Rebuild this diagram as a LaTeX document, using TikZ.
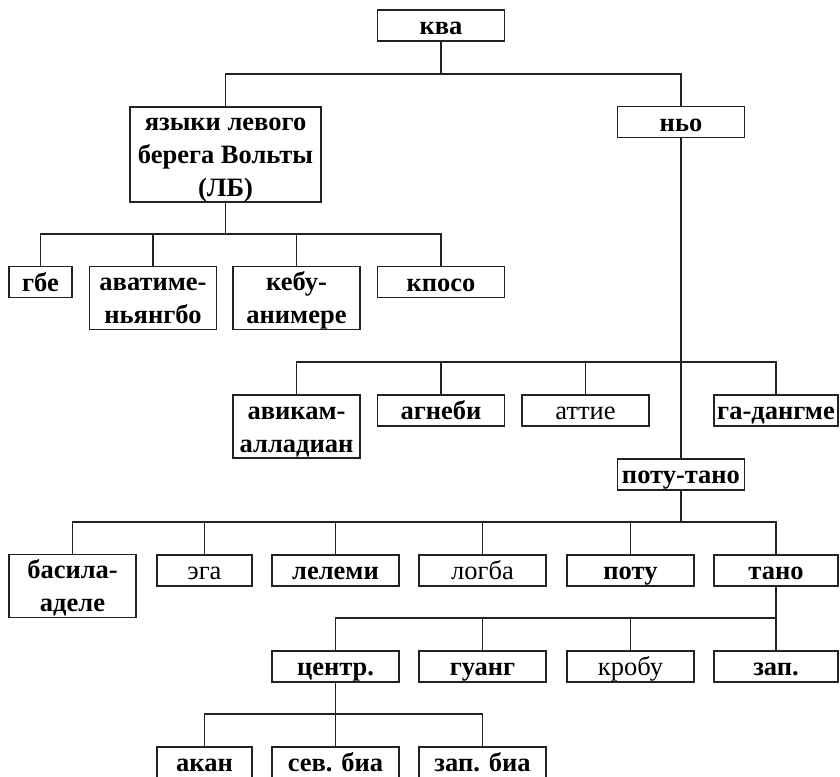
\documentclass[tikz,border=0pt]{standalone}
\usepackage{fontspec}
\setmainfont{Liberation Serif}
\usetikzlibrary{positioning}
\definecolor{linec}{RGB}{34,34,34}
\tikzset{
  box/.style={
    rectangle, draw=linec, line width=1.6pt, fill=white,
    inner sep=0pt, align=center, minimum width=127pt, minimum height=31pt,
    font=\fontsize{26.5}{33}\selectfont\bfseries, text=black,
    text height=22pt, text depth=4pt
  },
  plain/.style={font=\fontsize{26.5}{33}\selectfont\mdseries},
  narrow/.style={minimum width=95pt},
  tiny/.style={minimum width=63pt},
  twoline/.style={minimum height=63pt, text height=55pt},
  threeline/.style={minimum height=95pt, text height=88pt},
  link/.style={draw=linec, line width=1.2pt},
}

\begin{document}
\begin{tikzpicture}[x=1pt, y=-1pt]
  \useasboundingbox (0,0) rectangle (840,776);
  % top level
  \node[box] (kva) at (441,25.5) {ква};
  \node[box, threeline, minimum width=191pt] (lb) at (225.5,154.5)
    {языки левого\\берега Вольты\\(ЛБ)};
  \node[box] (nyo) at (681,122) {ньо};
  % left bank
  \node[box, tiny] (gbe) at (40.5,282) {гбе};
  \node[box, twoline] (avat) at (153,298) {аватиме-\\ньянгбо};
  \node[box, twoline] (kebu) at (296.5,298) {кебу-\\анимере};
  \node[box] (kposo) at (441,282) {кпосо};
  % nyo
  \node[box, twoline] (avikam) at (296.5,426.5) {авикам-\\алладиан};
  \node[box] (agnebi) at (441,410.5) {агнеби};
  \node[box, plain] (attie) at (585.5,410.5) {аттие};
  \node[box, minimum width=124pt] (ga) at (776,410.5) {га-дангме};
  \node[box] (pototano) at (681,474.5) {поту-тано};
  % potou-tano
  \node[box, twoline] (basila) at (72.5,586) {басила-\\аделе};
  \node[box, plain, narrow] (ega) at (204.5,570.5) {эга};
  \node[box] (lelemi) at (335.5,570.5) {лелеми};
  \node[box, plain] (logba) at (482.5,570.5) {логба};
  \node[box] (potu) at (630.5,570.5) {поту};
  \node[box, minimum width=124pt] (tano) at (776,570.5) {тано};
  % tano
  \node[box] (centr) at (335.5,666.5) {центр.};
  \node[box] (guang) at (482.5,666.5) {гуанг};
  \node[box, plain] (krobu) at (630.5,666.5) {кробу};
  \node[box, minimum width=124pt] (zap) at (776,666.5) {зап.};
  % central tano
  \node[box, narrow] (akan) at (204.5,762.5) {акан};
  \node[box] (sevbia) at (335.5,762.5) {сев. биа};
  \node[box] (zapbia) at (482.5,762.5) {зап. биа};

  % connectors
  \coordinate (b0) at (441,74);
  \draw[link] (kva.south) -- (b0);
  \draw[link] (lb.north) |- (b0) -| (nyo.north);

  \coordinate (b1) at (225.5,234);
  \draw[link] (lb.south) -- (b1);
  \draw[link] (gbe.north) |- (b1) -| (kposo.north);
  \foreach \n in {avat,kebu}
    \draw[link] (\n.north) -- (\n.north |- b1);

  \coordinate (b2) at (681,362);
  \draw[link] (nyo.south) -- (pototano.north);
  \draw[link] (avikam.north) |- (b2) -| (ga.north);
  \foreach \n in {agnebi,attie}
    \draw[link] (\n.north) -- (\n.north |- b2);

  \coordinate (b3) at (681,522);
  \draw[link] (pototano.south) -- (b3);
  \draw[link] (basila.north) |- (b3) -| (tano.north);
  \foreach \n in {ega,lelemi,logba,potu}
    \draw[link] (\n.north) -- (\n.north |- b3);

  \coordinate (b4) at (776,618);
  \draw[link] (tano.south) -- (zap.north);
  \draw[link] (centr.north) |- (b4);
  \foreach \n in {guang,krobu}
    \draw[link] (\n.north) -- (\n.north |- b4);

  \coordinate (b5) at (335.5,714);
  \draw[link] (centr.south) -- (sevbia.north);
  \draw[link] (akan.north) |- (b5) -| (zapbia.north);
\end{tikzpicture}
\end{document}
